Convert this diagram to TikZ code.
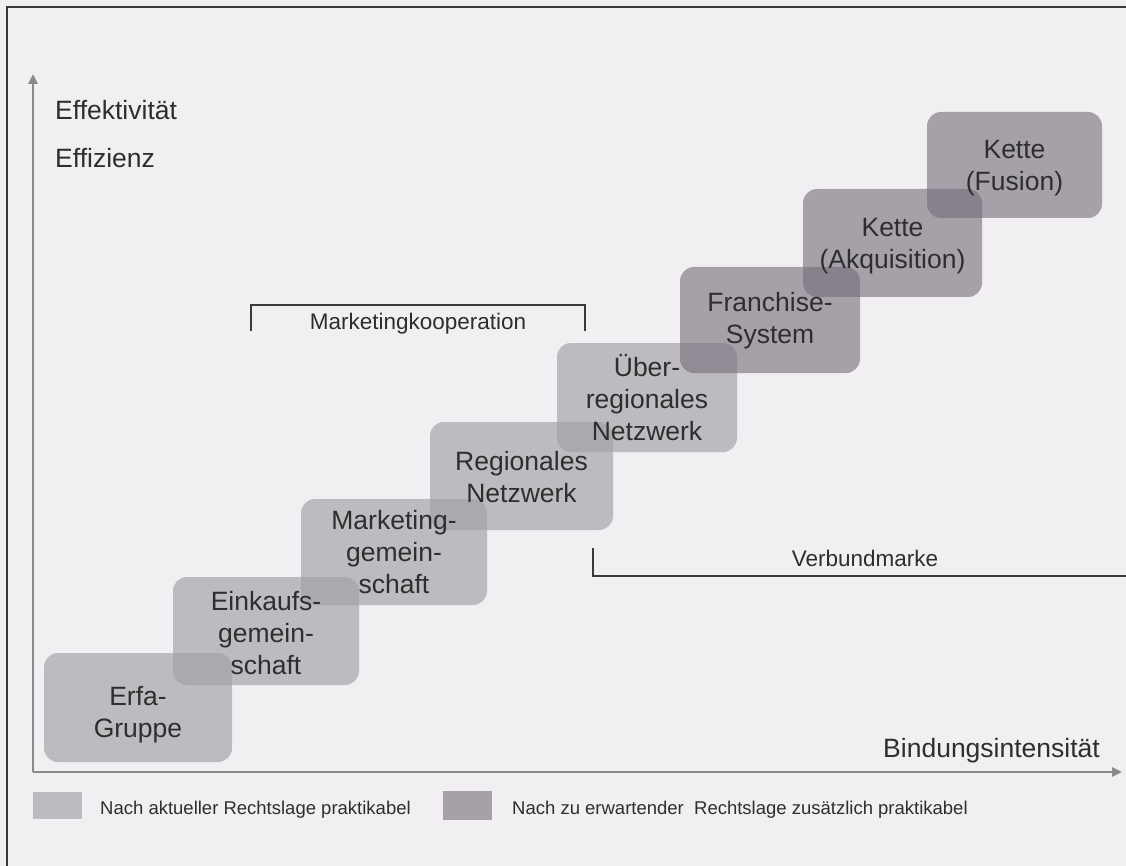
\documentclass[tikz,border=0pt]{standalone}
\usepackage{fontspec}
\setmainfont{Liberation Sans}
\usetikzlibrary{arrows.meta}

\definecolor{paper}{HTML}{F1EFF1}
\definecolor{ink}{HTML}{2E2E2E}
\definecolor{lightstep}{RGB}{160,159,164}
\definecolor{darkstep}{RGB}{112,106,118}
\definecolor{axisgray}{HTML}{8A8A8A}
\definecolor{frameline}{HTML}{3A3A3A}

\begin{document}
\begin{tikzpicture}[x=1pt,y=-1pt,
  stage/.style={rounded corners=14pt, fill opacity=0.64, inner sep=0pt},
  current/.style={stage, fill=lightstep},
  future/.style={stage, fill=darkstep, fill opacity=0.58},
  steptext/.style={text=ink, align=center, inner sep=0pt,
    font=\fontsize{26.5}{32}\selectfont},
  axis/.style={draw=axisgray, line width=2.5pt,
    -{Triangle[length=10pt,width=9pt]}},
  bracket/.style={draw=frameline, line width=2pt},
  biglabel/.style={text=ink, inner sep=0pt, font=\fontsize{26.5}{32}\selectfont},
  midlabel/.style={text=ink, inner sep=0pt, font=\fontsize{22.5}{27}\selectfont},
  keylabel/.style={text=ink, inner sep=0pt, font=\fontsize{18.5}{22}\selectfont},
  keybox/.style={inner sep=0pt, fill opacity=0.64},
]
% page and frame
\useasboundingbox (0,0) rectangle (1126,866);
\fill[paper] (0,0) rectangle (1126,866);
\draw[frameline, line width=2pt] (7,866) -- (7,7) -- (1126,7);

% steps of the staircase (translucent plates)
\node[current, minimum width=188pt, minimum height=109pt] (erfa) at (138,707.5) {};
\node[current, minimum width=186pt, minimum height=108pt] (einkauf) at (266,631) {};
\node[current, minimum width=186pt, minimum height=106pt] (mgem) at (394,552) {};
\node[current, minimum width=183pt, minimum height=108pt] (regnetz) at (521.5,476) {};
\node[current, minimum width=180pt, minimum height=109pt] (ueber) at (647,397.5) {};
\node[future, minimum width=180pt, minimum height=106pt] (franchise) at (770,320) {};
\node[future, minimum width=179pt, minimum height=108pt] (akq) at (892.5,243) {};
\node[future, minimum width=175pt, minimum height=106pt] (fusion) at (1014.5,165) {};

% step names, set above all plates
\node[steptext] (erfaT) at ([yshift=-7pt]erfa.center) {Erfa-\\Gruppe};
\node[steptext] (einkaufT) at ([yshift=-2pt]einkauf.center) {Einkaufs-\\gemein-\\schaft};
\node[steptext] (mgemT) at (mgem.center) {Marketing-\\gemein-\\schaft};
\node[steptext] (regnetzT) at ([yshift=-1pt]regnetz.center) {Regionales\\Netzwerk};
\node[steptext] (ueberT) at (ueber.center) {Über-\\regionales\\Netzwerk};
\node[steptext] (franchiseT) at ([yshift=-1pt]franchise.center) {Franchise-\\System};
\node[steptext] (akqT) at ([yshift=-3pt]akq.center) {Kette\\(Akquisition)};
\node[steptext] (fusionT) at ([yshift=-3pt]fusion.center) {Kette\\(Fusion)};

% axes
\coordinate (origin) at (33,772);
\coordinate (ytip) at (33,74);
\coordinate (xtip) at (1122,772);
\draw[axis] (origin) -- (ytip);
\draw[axis] (origin) -- (xtip);
\node[biglabel, anchor=base west] (effekt) at (55,120) {Effektivität};
\node[biglabel, anchor=base west] (effiz) at (55,168) {Effizienz};
\node[biglabel, anchor=base east] (bindung) at (1100,757) {Bindungsintensität};

% groupings
\coordinate (mk1) at (251,331);
\coordinate (mk2) at (251,305);
\coordinate (mk3) at (585,305);
\coordinate (mk4) at (585,331);
\draw[bracket] (mk1) -- (mk2) -- (mk3) -- (mk4);
\node[midlabel] (mkoop) at (418,324) {Marketingkooperation};

\coordinate (vb1) at (593,548);
\coordinate (vb2) at (593,576);
\coordinate (vb3) at (1126,576);
\draw[bracket] (vb1) -- (vb2) -- (vb3);
\node[midlabel] (vmarke) at (865,558) {Verbundmarke};

% key
\fill[keybox, lightstep] (33,792) rectangle (82,819);
\node[keylabel, anchor=base west] (key1) at (100,814) {Nach aktueller Rechtslage praktikabel};
\fill[keybox, darkstep, fill opacity=0.58] (443,791) rectangle (492,820);
\node[keylabel, anchor=base west] (key2) at (512,814) {Nach zu erwartender~ Rechtslage zusätzlich praktikabel};
\end{tikzpicture}
\end{document}
